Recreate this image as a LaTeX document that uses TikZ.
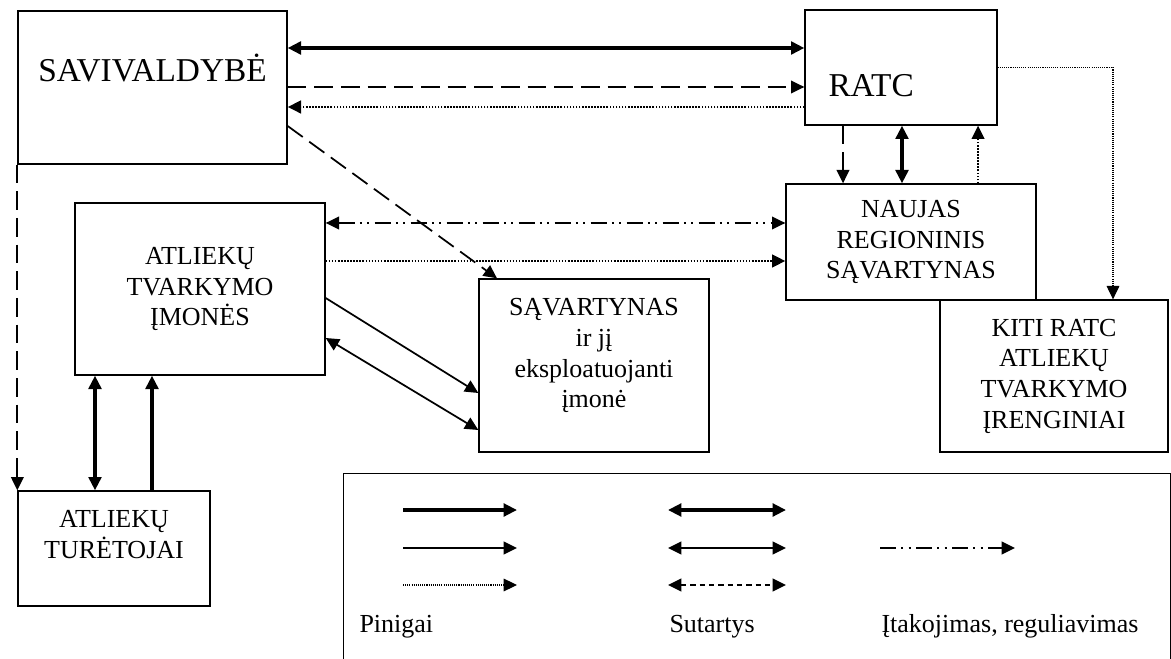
\documentclass[tikz,border=0pt]{standalone}
\usepackage{fontspec}
\setmainfont{Liberation Serif}
\usetikzlibrary{arrows.meta}

\tikzset{every picture/.style={line width=0.75pt}}
\tikzset{
  blk/.style={draw, line width=1pt, inner sep=0pt},
  lbl/.style={inner sep=0.75pt, align=center, font=\fontsize{19.5}{23}\selectfont},
  biglbl/.style={inner sep=0.75pt, font=\fontsize{25}{29}\selectfont},
  arr/.style={-{Triangle[length=10pt,width=9.5pt]}},
  darr/.style={{Triangle[length=10pt,width=9.5pt]}-{Triangle[length=10pt,width=9.5pt]}},
  fat/.style={line width=2.4pt},
  plain/.style={line width=1.3pt},
  dsh/.style={line width=1.3pt, dash pattern=on 14pt off 6pt},
  shortdsh/.style={line width=1.3pt, dash pattern=on 4pt off 3pt},
  dtt/.style={line width=1.6pt, dash pattern=on 1.2pt off 1.1pt},
  finedtt/.style={line width=0.8pt, dash pattern=on 0.8pt off 0.8pt},
  dashdots/.style={line width=1.3pt, dash pattern=on 12pt off 4pt on 1.5pt off 4pt on 1.5pt off 4pt},
}

\begin{document}
\begin{tikzpicture}[x=0.75pt,y=0.75pt,yscale=-1,xscale=1]
\useasboundingbox (0,0) rectangle (1171,659);
\clip (0,0) rectangle (1171,659);

% Boxes
\node [blk, minimum width=201.75pt, minimum height=114.75pt] (sav) at (152.5,87.5) {};
\node [blk, minimum width=144pt, minimum height=86.25pt] (ratc) at (901,67.5) {};
\node [blk, lbl, minimum width=187.5pt, minimum height=87pt] (naujas) at (911,242) {NAUJAS\\REGIONINIS\\SĄVARTYNAS};
\node [blk, lbl, minimum width=187.5pt, minimum height=129pt] (imones) at (200,289) {ATLIEKŲ\\TVARKYMO\\ĮMONĖS};
\node [blk, minimum width=172.5pt, minimum height=129.75pt] (savart) at (594,365.5) {};
\node [blk, lbl, minimum width=171pt, minimum height=114pt] (kiti) at (1054,376) {KITI RATC\\ATLIEKŲ\\TVARKYMO\\ĮRENGINIAI};
\node [blk, minimum width=144pt, minimum height=86.25pt] (turet) at (114,548.5) {};
\node [blk, minimum width=620.25pt, minimum height=170.25pt, anchor=north west] (legend) at (343,473) {};

% Text Node
\node [biglbl, anchor=base] (savtxt) at (152.5,82) {SAVIVALDYBĖ};
% Text Node
\node [biglbl, anchor=base west] (ratctxt) at (827,97) {RATC};
% Text Node
\node [lbl, anchor=north] (savarttxt) at (594,297) {SĄVARTYNAS\\ir jį\\eksploatuojanti\\įmonė};
% Text Node
\node [lbl, anchor=north] (turettxt) at (114,509) {ATLIEKŲ\\TURĖTOJAI};

%Straight Lines
\draw [fat, darr] (sav.east |- 0,48) -- (ratc.west |- 0,48);
\draw [dsh, arr] (sav.east |- 0,87) -- (ratc.west |- 0,87);
\draw [dtt, arr] (ratc.west |- 0,107) -- (sav.east |- 0,107);
\draw [dsh, arr] (sav.east |- 0,126) -- (497,0 |- savart.north);
\draw [dsh, arr] (sav.south west) -- (turet.north west);
%Straight Lines
\draw [dsh, arr] (843,0 |- ratc.south) -- (843,0 |- naujas.north);
\draw [fat, darr] (902,0 |- ratc.south) -- (902,0 |- naujas.north);
\draw [dtt, arr] (978,0 |- naujas.north) -- (978,0 |- ratc.south);
\draw [finedtt, arr] (ratc.east) -| (1113,0 |- kiti.north);
%Straight Lines
\draw [dashdots, darr] (imones.east |- 0,223) -- (naujas.west |- 0,223);
\draw [dtt, arr] (imones.east |- 0,261) -- (naujas.west |- 0,261);
\draw [plain, arr] (imones.east |- 0,298) -- (savart.west |- 0,393);
\draw [plain, darr] (imones.east |- 0,338) -- (savart.west |- 0,430);
%Straight Lines
\draw [fat, darr] (95,0 |- turet.north) -- (95,0 |- imones.south);
\draw [fat, arr] (152,0 |- turet.north) -- (152,0 |- imones.south);

% Legend
\coordinate (mA) at (403,510);
\coordinate (mB) at (517,510);
\coordinate (nA) at (403,548);
\coordinate (nB) at (517,548);
\coordinate (oA) at (403,585);
\coordinate (oB) at (517,585);
\coordinate (sA) at (668,510);
\coordinate (sB) at (786,510);
\coordinate (tA) at (668,548);
\coordinate (tB) at (786,548);
\coordinate (uA) at (668,585);
\coordinate (uB) at (786,585);
\coordinate (iA) at (880,548);
\coordinate (iB) at (1015,548);
\draw [fat, arr] (mA) -- (mB);
\draw [plain, arr] (nA) -- (nB);
\draw [finedtt, arr] (oA) -- (oB);
\draw [fat, darr] (sA) -- (sB);
\draw [plain, darr] (tA) -- (tB);
\draw [shortdsh, darr] (uA) -- (uB);
\draw [dashdots, arr] (iA) -- (iB);

% Text Node
\node [lbl, anchor=base west] (pinigai) at (358,632) {Pinigai};
% Text Node
\node [lbl, anchor=base west] (sutartys) at (668,632) {Sutartys};
% Text Node
\node [lbl, anchor=base west] (itak) at (880,632) {Įtakojimas, reguliavimas};

\end{tikzpicture}
\end{document}
